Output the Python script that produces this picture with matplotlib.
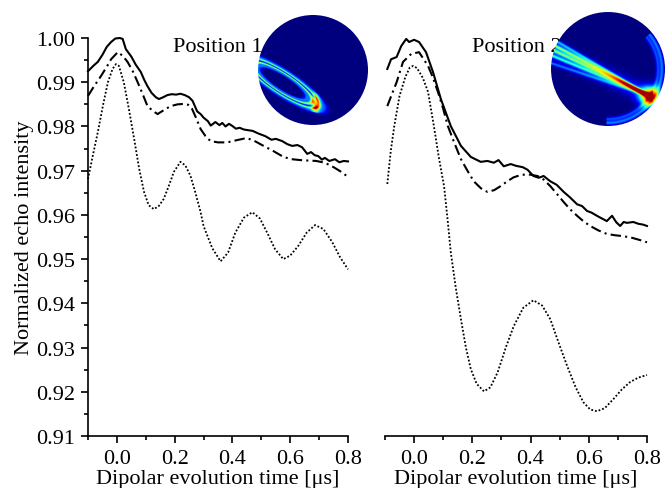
import numpy as np
import matplotlib
matplotlib.use("Agg")
import matplotlib.pyplot as plt
from matplotlib.patches import Circle
from matplotlib.ticker import MultipleLocator

plt.rcParams['font.family'] = ['Liberation Serif', 'DejaVu Serif']
plt.rcParams['font.size'] = 16

# ---- Position 1 ----
p1_solid_x = [-0.1, -0.08, -0.066, -0.05, -0.035, -0.02, -0.005, 0.01, 0.02, 0.031, 0.05, 0.065,
              0.083, 0.095, 0.106, 0.12, 0.135, 0.146, 0.16, 0.175, 0.19, 0.205, 0.22, 0.235,
              0.25, 0.262, 0.278, 0.29, 0.30, 0.315, 0.325, 0.341, 0.355, 0.365, 0.376, 0.388,
              0.40, 0.412, 0.425, 0.44, 0.47, 0.49, 0.514, 0.535, 0.55, 0.572, 0.59, 0.607,
              0.625, 0.641, 0.659, 0.672, 0.685, 0.697, 0.71, 0.72, 0.735, 0.755, 0.77, 0.785, 0.8]
p1_solid_y = [0.9925, 0.9938, 0.9946, 0.9962, 0.9980, 0.9991, 0.9999, 1.0000, 0.9998, 0.9975, 0.9958, 0.9940,
              0.9923, 0.9905, 0.9891, 0.9876, 0.9866, 0.9862, 0.9866, 0.9871, 0.9873, 0.9872, 0.9874, 0.9871,
              0.9866, 0.9858, 0.9834, 0.9828, 0.9820, 0.9812, 0.9802, 0.9810, 0.9803, 0.9808, 0.9800, 0.9806,
              0.9801, 0.9795, 0.9797, 0.9793, 0.9790, 0.9784, 0.9778, 0.9770, 0.9772, 0.9767, 0.9760, 0.9756,
              0.9758, 0.9753, 0.9738, 0.9742, 0.9735, 0.9733, 0.9725, 0.9729, 0.9722, 0.9726, 0.9719, 0.9722, 0.9721]

p1_dd_x = [-0.1, -0.08, -0.055, -0.035, -0.02, 0.003, 0.02, 0.037, 0.055, 0.072, 0.09, 0.106, 0.125,
           0.141, 0.165, 0.186, 0.21, 0.231, 0.247, 0.26, 0.275, 0.29, 0.307, 0.324, 0.35, 0.382,
           0.415, 0.45, 0.48, 0.508, 0.54, 0.577, 0.605, 0.634, 0.66, 0.69, 0.72, 0.75, 0.775, 0.8]
p1_dd_y = [0.9869, 0.9890, 0.9914, 0.9935, 0.9952, 0.9968, 0.9960, 0.9946, 0.9925, 0.9900, 0.9872, 0.9846, 0.9835,
           0.9828, 0.9838, 0.9846, 0.9850, 0.9851, 0.9849, 0.9840, 0.9818, 0.9794, 0.9778, 0.9767, 0.9764, 0.9764,
           0.9769, 0.9774, 0.9766, 0.9756, 0.9745, 0.9731, 0.9726, 0.9724, 0.9723, 0.9722, 0.9718, 0.9708, 0.9698, 0.9686]

p1_dot_x = [-0.1, -0.083, -0.066, -0.048, -0.031, -0.015, -0.003, 0.007, 0.024, 0.042, 0.06, 0.077,
            0.094, 0.11, 0.128, 0.145, 0.162, 0.18, 0.197, 0.22, 0.237, 0.255, 0.272, 0.29, 0.30,
            0.33, 0.359, 0.385, 0.41, 0.44, 0.469, 0.495, 0.52, 0.548, 0.576, 0.60, 0.628, 0.657,
            0.686, 0.715, 0.745, 0.772, 0.8]
p1_dot_y = [0.9681, 0.9735, 0.9787, 0.9848, 0.9900, 0.9930, 0.9941, 0.9937, 0.9900, 0.9838, 0.9771, 0.9705,
            0.9652, 0.9622, 0.9613, 0.9620, 0.9636, 0.9666, 0.9697, 0.9720, 0.9712, 0.9688, 0.9650, 0.9606, 0.9575,
            0.9525, 0.9495, 0.9515, 0.9560, 0.9594, 0.9606, 0.9592, 0.9560, 0.9522, 0.9500, 0.9508, 0.9530, 0.9560,
            0.9577, 0.9568, 0.9539, 0.9505, 0.9477]

# ---- Position 2 ----
p2_solid_x = [-0.092, -0.079, -0.06, -0.044, -0.027, -0.017, 0.0, 0.017, 0.041, 0.065, 0.092, 0.126,
              0.161, 0.195, 0.229, 0.252, 0.274, 0.29, 0.308, 0.332, 0.35, 0.373, 0.39, 0.41, 0.428,
              0.445, 0.468, 0.49, 0.514, 0.535, 0.56, 0.577, 0.594, 0.61, 0.628, 0.645, 0.662, 0.68,
              0.695, 0.708, 0.72, 0.731, 0.753, 0.77, 0.787, 0.8]
p2_solid_y = [0.9930, 0.9952, 0.9957, 0.9982, 0.9998, 0.9991, 0.9996, 0.9991, 0.9968, 0.9923, 0.9862, 0.9801,
              0.9756, 0.9731, 0.9720, 0.9722, 0.9718, 0.9724, 0.9710, 0.9715, 0.9711, 0.9708, 0.9702, 0.9688, 0.9684,
              0.9688, 0.9676, 0.9668, 0.9652, 0.9640, 0.9624, 0.9620, 0.9609, 0.9605, 0.9598, 0.9592, 0.9586, 0.9598,
              0.9583, 0.9575, 0.9584, 0.9582, 0.9584, 0.9580, 0.9578, 0.9575]

p2_dd_x = [-0.092, -0.075, -0.06, -0.038, -0.01, 0.017, 0.048, 0.065, 0.082, 0.1, 0.116, 0.14, 0.161,
           0.185, 0.205, 0.23, 0.252, 0.275, 0.297, 0.32, 0.342, 0.365, 0.39, 0.424, 0.445, 0.468,
           0.49, 0.514, 0.537, 0.56, 0.583, 0.605, 0.633, 0.662, 0.69, 0.718, 0.75, 0.787, 0.8]
p2_dd_y = [0.9846, 0.9875, 0.9900, 0.9946, 0.9964, 0.9968, 0.9937, 0.9910, 0.9878, 0.9840, 0.9801, 0.9760, 0.9726,
           0.9698, 0.9676, 0.9660, 0.9652, 0.9656, 0.9665, 0.9676, 0.9685, 0.9690, 0.9692, 0.9688, 0.9680, 0.9665,
           0.9648, 0.9629, 0.9612, 0.9598, 0.9585, 0.9575, 0.9565, 0.9557, 0.9554, 0.9552, 0.9548, 0.9541, 0.9538]

p2_dot_x = [-0.092, -0.08, -0.068, -0.05, -0.03, -0.015, -0.003, 0.01, 0.03, 0.048, 0.068, 0.085,
            0.103, 0.115, 0.126, 0.143, 0.161, 0.178, 0.195, 0.215, 0.24, 0.262, 0.287, 0.315,
            0.342, 0.375, 0.41, 0.44, 0.468, 0.497, 0.526, 0.555, 0.582, 0.605, 0.628, 0.655,
            0.684, 0.713, 0.742, 0.77, 0.8]
p2_dot_y = [0.9670, 0.9745, 0.9801, 0.9869, 0.9912, 0.9933, 0.9937, 0.9932, 0.9910, 0.9878, 0.9801, 0.9730,
            0.9665, 0.9590, 0.9516, 0.9436, 0.9364, 0.9300, 0.9251, 0.9218, 0.9201, 0.9210, 0.9244, 0.9300,
            0.9348, 0.9390, 0.9407, 0.9395, 0.9364, 0.9310, 0.9258, 0.9210, 0.9176, 0.9160, 0.9156, 0.9163,
            0.9183, 0.9205, 0.9222, 0.9232, 0.9238]

panels = [
    (p1_solid_x, p1_solid_y, p1_dd_x, p1_dd_y, p1_dot_x, p1_dot_y),
    (p2_solid_x, p2_solid_y, p2_dd_x, p2_dd_y, p2_dot_x, p2_dot_y),
]

fig = plt.figure(figsize=(6.65, 4.89), dpi=100)
ax1 = fig.add_axes([0.1323, 0.1063, 0.3910, 0.8139])
ax2 = fig.add_axes([0.5789, 0.1063, 0.3940, 0.8139])

for ax, (sx, sy, dx, dy, px, py) in zip([ax1, ax2], panels):
    ax.plot(sx, sy, color='black', lw=1.5, clip_on=False)
    ax.plot(dx, dy, color='black', lw=1.5, ls=(0, (5, 2, 1, 2)), clip_on=False)
    ax.plot(px, py, color='black', lw=1.3, ls=(0, (1, 1.1)), clip_on=False)
    ax.set_xlim(-0.1, 0.8)
    ax.set_ylim(0.91, 1.0)
    ax.spines['top'].set_visible(False)
    ax.spines['right'].set_visible(False)
    ax.spines['bottom'].set_bounds(-0.1, 0.8)
    ax.set_xticks([0.0, 0.2, 0.4, 0.6, 0.8])
    ax.set_xticklabels(['0.0', '0.2', '0.4', '0.6', '0.8'])
    ax.xaxis.set_minor_locator(MultipleLocator(0.1))
    ax.tick_params(which='major', direction='out', length=5, width=1.2, pad=4, labelsize=16)
    ax.tick_params(which='minor', direction='out', length=3, width=1.2)
    ax.set_xlabel('Dipolar evolution time [μs]', fontsize=16, labelpad=1)
    for s in ax.spines.values():
        s.set_linewidth(1.2)

ax1.set_yticks(np.arange(0.91, 1.001, 0.01))
ax1.set_yticklabels(['%.2f' % v for v in np.arange(0.91, 1.001, 0.01)])
ax1.yaxis.set_minor_locator(MultipleLocator(0.005))
ax1.set_ylabel('Normalized echo intensity', fontsize=16, labelpad=2)
ax2.spines['left'].set_visible(False)
ax2.yaxis.set_visible(False)

fig.text(173 / 665, 1 - 52 / 489, 'Position 1', fontsize=16, ha='left', va='baseline')
fig.text(472 / 665, 1 - 52 / 489, 'Position 2', fontsize=16, ha='left', va='baseline')

# ---- inset field maps (decorative pictures) ----
u, v = np.meshgrid(np.linspace(-1, 1, 300), np.linspace(1, -1, 300))


def band(d, w, amp):
    return amp * np.exp(-(d / w) ** 2)


# position 1: hairpin loop with hot tip, cut by the rim on the left
ang = np.deg2rad(-33)
cx, cy, a, b = -0.554, -0.235, 0.78, 0.2
xr = (u - cx) * np.cos(ang) + (v - cy) * np.sin(ang)
yr = -(u - cx) * np.sin(ang) + (v - cy) * np.cos(ang)
r = np.sqrt((xr / a) ** 2 + (yr / b) ** 2)
img1 = (band(r - 1.12, 0.12, 0.22) + band(r - 1.0, 0.06, 0.45)
        + band(r - 0.82, 0.06, 0.55) + band(r - 0.68, 0.08, 0.25))
tip = (cx + 0.92 * a * np.cos(ang), cy + 0.92 * a * np.sin(ang))
img1 += band(np.hypot((u - tip[0]) * 2.0, (v - tip[1]) * 0.8), 0.13, 0.6) * (r < 1.2) * (r > 0.6)
img1 = np.clip(img1, 0, 0.97)

# position 2: fan of bands into a hot spot near the rim
hx, hy = 0.74, -0.48
img2 = np.zeros_like(u)
for deg, amp in [(-30.5, 0.3), (-28.0, 0.45), (-25.5, 0.38), (-22.5, 0.3), (-18.5, 0.22)]:
    t = np.deg2rad(deg)
    d = -(u - hx) * np.sin(t) + (v - hy) * np.cos(t)
    img2 += band(d, 0.03, amp) * (u < hx + 0.05)
t = np.deg2rad(-25)
d = -(u - hx) * np.sin(t) + (v - hy) * np.cos(t)
img2 += band(d, 0.14, 0.15) * (u < hx + 0.05)
rr = np.hypot(u, v)
th = np.arctan2(v, u)
for rad, amp in [(0.95, 0.25), (0.88, 0.2)]:
    img2 += band(rr - rad, 0.035, amp) * ((th > -1.6) & (th < 0.7))
img2 += band(np.hypot((u - hx) * 1.0, (v - hy) * 1.1), 0.17, 0.85)
img2 = np.clip(img2, 0, 0.97)

for bounds, img in [([0.3880, 0.7423, 0.1654, 0.2250], img1),
                    ([0.8286, 0.7403, 0.1714, 0.2331], img2)]:
    axi = fig.add_axes(bounds, zorder=5)
    im = axi.imshow(img, cmap='jet', vmin=0, vmax=1, extent=[-1, 1, -1, 1])
    im.set_clip_path(Circle((0, 0), 1, transform=axi.transData))
    axi.set_xlim(-1, 1)
    axi.set_ylim(-1, 1)
    axi.axis('off')

fig.savefig('out.png', dpi=100)
